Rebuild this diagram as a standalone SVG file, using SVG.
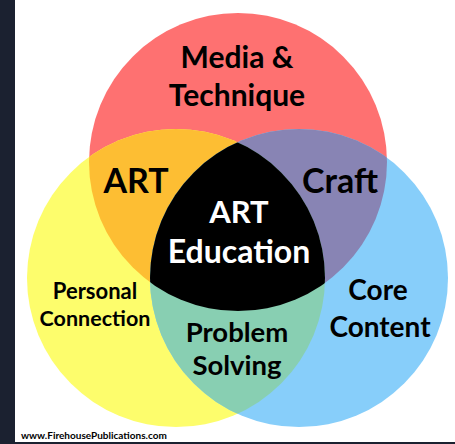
<svg xmlns="http://www.w3.org/2000/svg" width="455" height="444" viewBox="0 0 455 444">
<defs>
<style>
.t{font-family:Lato,"Liberation Sans",sans-serif;font-weight:700;text-anchor:middle;fill:#000}
.w{fill:#fff}
</style>
<clipPath id="cR"><circle cx="238" cy="162" r="149"/></clipPath>
<clipPath id="cY"><circle cx="176" cy="278" r="149"/></clipPath>
</defs>
<rect width="455" height="444" fill="#fff"/>
<rect x="0" y="0" width="15" height="444" fill="#1b2130"/>
<rect x="0" y="442" width="455" height="2" fill="#1b2130"/>
<g id="red"><circle cx="238" cy="162" r="149" fill="#fe7171"/></g>
<g id="yellow"><circle cx="176" cy="278" r="149" fill="#fdfd6c"/></g>
<g id="blue"><circle cx="299" cy="278" r="149" fill="#87cefa"/></g>
<g id="art"><circle cx="176" cy="278" r="149" fill="#fdbe33" clip-path="url(#cR)"/></g>
<g id="craft"><circle cx="299" cy="278" r="149" fill="#8884b4" clip-path="url(#cR)"/></g>
<g id="problem"><circle cx="299" cy="278" r="149" fill="#88cfb2" clip-path="url(#cY)"/></g>
<g id="center"><g clip-path="url(#cY)"><circle cx="299" cy="278" r="149" fill="#000" clip-path="url(#cR)"/></g></g>
<g id="labels">
<text class="t" x="237" y="68" font-size="30">Media &amp;</text>
<text class="t" x="237" y="106" font-size="30">Technique</text>
<text class="t" x="136" y="193" font-size="34">ART</text>
<text class="t" x="340" y="193" font-size="34">Craft</text>
<text class="t w" x="239" y="223" font-size="31">ART</text>
<text class="t w" x="239" y="263" font-size="32">Education</text>
<text class="t" x="95" y="299" font-size="22">Personal</text>
<text class="t" x="95" y="326" font-size="21.5">Connection</text>
<text class="t" x="378" y="300" font-size="28">Core</text>
<text class="t" x="380" y="337" font-size="28">Content</text>
<text class="t" x="237" y="342" font-size="27.5">Problem</text>
<text class="t" x="237" y="375" font-size="27.5">Solving</text>
<text class="t" x="21" y="439" font-size="10" style="text-anchor:start">www.FirehousePublications.com</text>
</g>
</svg>
